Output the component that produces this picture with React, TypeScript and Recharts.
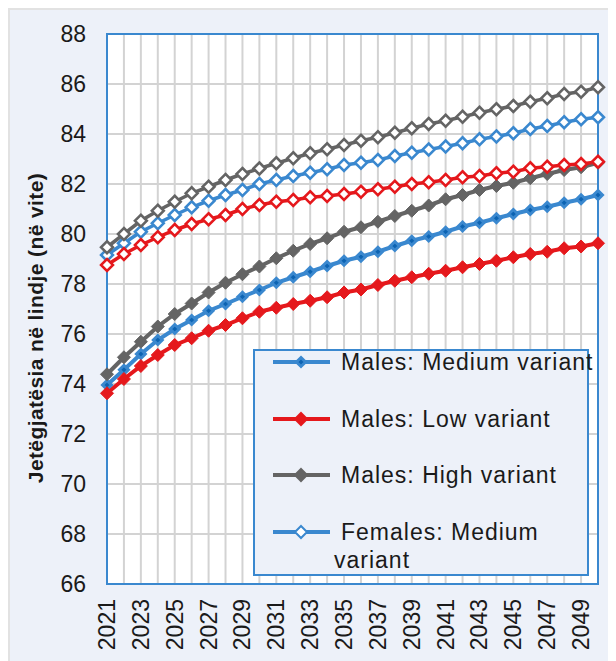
import React from "react";
import {
  LineChart,
  Line,
  XAxis,
  YAxis,
  CartesianGrid,
  ReferenceArea,
} from "recharts";

// life expectancy at birth, 2021-2050
const years = [
  2021, 2022, 2023, 2024, 2025, 2026, 2027, 2028, 2029, 2030,
  2031, 2032, 2033, 2034, 2035, 2036, 2037, 2038, 2039, 2040,
  2041, 2042, 2043, 2044, 2045, 2046, 2047, 2048, 2049, 2050,
];

const malesMedium = [
  73.96, 74.57, 75.2, 75.76, 76.2, 76.56, 76.93, 77.2, 77.49, 77.76,
  78.05, 78.27, 78.49, 78.72, 78.93, 79.09, 79.29, 79.52, 79.73, 79.9,
  80.09, 80.3, 80.45, 80.63, 80.8, 80.96, 81.09, 81.25, 81.39, 81.56,
];

const malesLow = [
  73.63, 74.2, 74.72, 75.16, 75.56, 75.83, 76.13, 76.36, 76.63, 76.89,
  77.05, 77.2, 77.33, 77.47, 77.66, 77.78, 77.96, 78.13, 78.27, 78.41,
  78.53, 78.67, 78.8, 78.93, 79.07, 79.2, 79.29, 79.43, 79.5, 79.63,
];

const malesHigh = [
  74.39, 75.07, 75.69, 76.3, 76.8, 77.22, 77.66, 78.05, 78.39, 78.7,
  79.03, 79.33, 79.6, 79.83, 80.09, 80.27, 80.49, 80.72, 80.93, 81.14,
  81.39, 81.56, 81.76, 81.92, 82.05, 82.23, 82.4, 82.56, 82.67, 82.85,
];

const femalesMedium = [
  79.16, 79.63, 80.09, 80.43, 80.76, 81.07, 81.33, 81.56, 81.76, 82.0,
  82.16, 82.32, 82.45, 82.59, 82.76, 82.85, 82.96, 83.12, 83.25, 83.38,
  83.5, 83.63, 83.79, 83.9, 84.03, 84.2, 84.32, 84.47, 84.59, 84.67,
];

const femalesLow = [
  78.76, 79.2, 79.56, 79.87, 80.16, 80.4, 80.59, 80.76, 81.0, 81.16,
  81.29, 81.36, 81.47, 81.52, 81.6, 81.69, 81.79, 81.89, 82.0, 82.07,
  82.16, 82.27, 82.32, 82.43, 82.49, 82.63, 82.69, 82.76, 82.8, 82.89,
];

const femalesHigh = [
  79.47, 80.0, 80.53, 80.93, 81.29, 81.63, 81.89, 82.16, 82.4, 82.62,
  82.83, 83.03, 83.23, 83.39, 83.56, 83.73, 83.87, 84.05, 84.23, 84.4,
  84.53, 84.69, 84.85, 84.99, 85.12, 85.29, 85.43, 85.6, 85.69, 85.87,
];

const yTicks = [66, 68, 70, 72, 74, 76, 78, 80, 82, 84, 86, 88];

const legendNames = [
  "Males: Medium variant",
  "Males: Low variant",
  "Males: High variant",
  "Females: Medium",
];

const data = years.map((year, i) => ({
  year,
  mm: malesMedium[i],
  ml: malesLow[i],
  mh: malesHigh[i],
  fm: femalesMedium[i],
  fl: femalesLow[i],
  fh: femalesHigh[i],
}));

const BLUE = "#3a88cf";
const DARK_BLUE = "#0c63b2";
const RED = "#e5181c";
const GREY = "#646464";
const FONT = '"Liberation Sans", Arial, sans-serif';

const diamond = (cx: number, cy: number, r: number) =>
  `M${cx},${cy - r} L${cx + r},${cy} L${cx},${cy + r} L${cx - r},${cy} Z`;

type DotStyle = { r: number; fill: string; stroke: string; strokeWidth: number };

const makeDot = (s: DotStyle) => (props: any) => {
  const { cx, cy, index } = props;
  if (cx == null || cy == null) return <g key={`d-${index}`} />;
  return (
    <path
      key={`d-${index}`}
      d={diamond(cx, cy, s.r)}
      fill={s.fill}
      stroke={s.stroke}
      strokeWidth={s.strokeWidth}
    />
  );
};

const dotMM = makeDot({ r: 4.5, fill: DARK_BLUE, stroke: BLUE, strokeWidth: 3 });
const dotML = makeDot({ r: 6.5, fill: RED, stroke: RED, strokeWidth: 1 });
const dotMH = makeDot({ r: 6.5, fill: GREY, stroke: GREY, strokeWidth: 1 });
const dotFM = makeDot({ r: 6, fill: "#fff", stroke: BLUE, strokeWidth: 2.5 });
const dotFL = makeDot({ r: 6, fill: "#fff", stroke: RED, strokeWidth: 2.5 });
const dotFH = makeDot({ r: 6, fill: "#fff", stroke: GREY, strokeWidth: 2.5 });

function XTick(props: any) {
  const { x, y, payload } = props;
  if ((payload.value - 2021) % 2 !== 0) return null;
  return (
    <text
      x={x}
      y={y}
      transform={`rotate(-90 ${x} ${y})`}
      textAnchor="end"
      dominantBaseline="central"
      fontSize={23}
      fill="#1a1a1a"
      fontFamily={FONT}
    >
      {payload.value}
    </text>
  );
}

const legendIcons = [
  { color: BLUE, fill: DARK_BLUE, r: 4.5 },
  { color: RED, fill: RED, r: 6 },
  { color: GREY, fill: GREY, r: 6 },
  { color: BLUE, fill: "#fff", r: 6 },
];

function LegendBox() {
  const rows = [11, 68, 124, 181];
  return (
    <div
      style={{
        position: "absolute",
        left: 245,
        top: 341,
        width: 336,
        height: 227,
        boxSizing: "border-box",
        border: `2px solid ${BLUE}`,
        background: "#edf1f9",
        fontFamily: FONT,
        fontSize: 23,
        letterSpacing: 1,
        color: "#1a1a1a",
      }}
    >
      {rows.map((top, i) => (
        <div key={i}>
          <svg
            width={60}
            height={20}
            style={{ position: "absolute", left: 17, top: top - 10 }}
          >
            <line x1={1} y1={10} x2={58} y2={10} stroke={legendIcons[i].color} strokeWidth={4} />
            <path
              d={diamond(29, 10, legendIcons[i].r)}
              fill={legendIcons[i].fill}
              stroke={legendIcons[i].color}
              strokeWidth={i === 0 ? 3 : 2}
            />
          </svg>
          <div
            style={{
              position: "absolute",
              left: 86,
              top: top - 14,
              lineHeight: "28px",
              whiteSpace: "nowrap",
            }}
          >
            {legendNames[i]}
          </div>
        </div>
      ))}
      <div
        style={{
          position: "absolute",
          left: 79,
          top: 195,
          lineHeight: "28px",
          whiteSpace: "nowrap",
        }}
      >
        variant
      </div>
    </div>
  );
}

export default function App() {
  return (
    <div style={{ position: "relative", width: 608, height: 653, fontFamily: FONT }}>
      <div
        style={{
          position: "absolute",
          inset: 0,
          background: "#edf1f9",
          borderTop: "2px solid #e2e2e2",
          borderLeft: "2px solid #e2e2e2",
          boxSizing: "border-box",
        }}
      />
      <div style={{ position: "absolute", left: 0, top: 0 }}>
        <LineChart
          width={608}
          height={653}
          data={data}
          margin={{ top: 26, right: 18, left: 0, bottom: 0 }}
        >
          <CartesianGrid stroke="#d3d3d3" strokeWidth={2} fill="#ffffff" fillOpacity={1} />
          <XAxis
            dataKey="year"
            type="number"
            domain={[2021, 2050]}
            ticks={years}
            interval={0}
            tick={<XTick />}
            tickLine={false}
            axisLine={false}
            tickSize={0}
            tickMargin={15}
            height={77}
          />
          <YAxis
            domain={[66, 88]}
            ticks={yTicks}
            interval={0}
            tick={{ fill: "#1a1a1a", fontSize: 23, fontFamily: FONT }}
            tickLine={false}
            axisLine={false}
            tickSize={0}
            tickMargin={21}
            width={99}
          />
          <ReferenceArea
            x1={2021}
            x2={2050}
            y1={66}
            y2={88}
            fill="none"
            stroke={BLUE}
            strokeWidth={2}
            ifOverflow="visible"
          />
          <Line type="linear" dataKey="mm" stroke={BLUE} strokeWidth={4} dot={dotMM} activeDot={false} isAnimationActive={false} />
          <Line type="linear" dataKey="ml" stroke={RED} strokeWidth={4} dot={dotML} activeDot={false} isAnimationActive={false} />
          <Line type="linear" dataKey="mh" stroke={GREY} strokeWidth={4} dot={dotMH} activeDot={false} isAnimationActive={false} />
          <Line type="linear" dataKey="fm" stroke={BLUE} strokeWidth={3.5} dot={dotFM} activeDot={false} isAnimationActive={false} />
          <Line type="linear" dataKey="fl" stroke={RED} strokeWidth={3.5} dot={dotFL} activeDot={false} isAnimationActive={false} />
          <Line type="linear" dataKey="fh" stroke={GREY} strokeWidth={3.5} dot={dotFH} activeDot={false} isAnimationActive={false} />
        </LineChart>
      </div>
      <div
        style={{
          position: "absolute",
          left: 28,
          top: 320,
          transform: "translate(-50%, -50%) rotate(-90deg)",
          whiteSpace: "nowrap",
          fontWeight: "bold",
          fontSize: 21,
          letterSpacing: 0.4,
          color: "#1a1a1a",
        }}
      >
        Jetëgjatësia në lindje (në vite)
      </div>
      <LegendBox />
    </div>
  );
}
